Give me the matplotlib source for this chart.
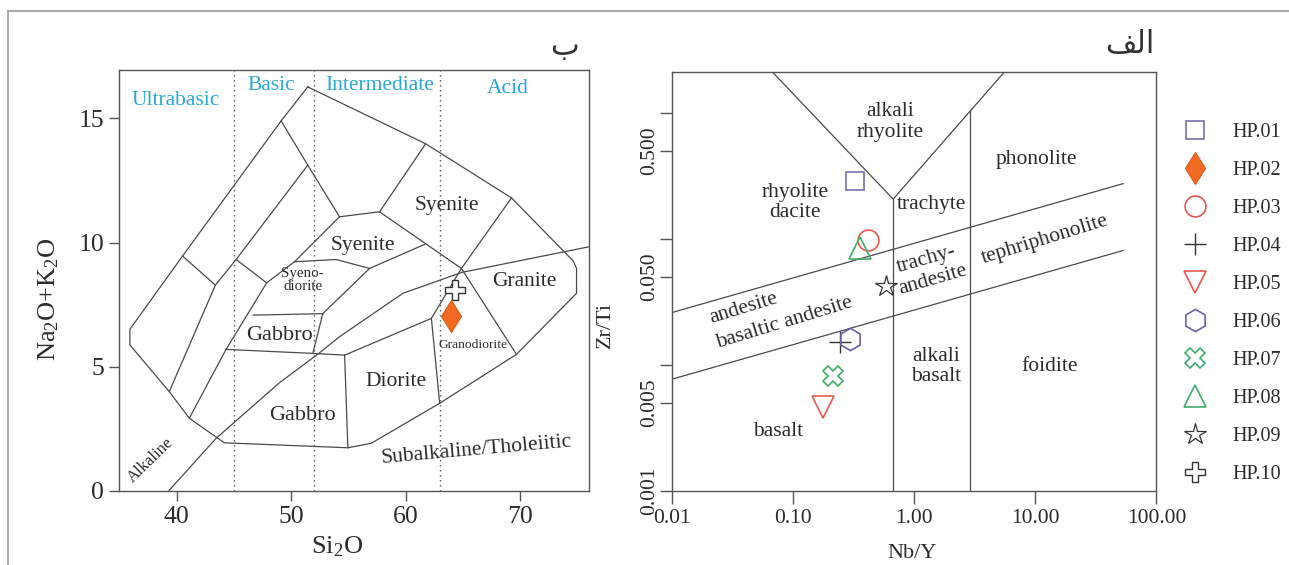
import numpy as np
import matplotlib
matplotlib.use("Agg")
import matplotlib.pyplot as plt
from matplotlib.lines import Line2D

plt.rcParams["font.family"] = ["Liberation Serif", "DejaVu Sans"]
plt.rcParams["mathtext.fontset"] = "custom"
plt.rcParams["mathtext.rm"] = "Liberation Serif"
plt.rcParams["mathtext.it"] = "Liberation Serif:italic"

# ---------------- sample data ----------------
sample_ids = ["HP.01", "HP.02", "HP.03", "HP.04", "HP.05",
              "HP.06", "HP.07", "HP.08", "HP.09", "HP.10"]

# Nb/Y vs Zr/Ti (right panel)
zr_ids = ["HP.01", "HP.03", "HP.04", "HP.05", "HP.06", "HP.07", "HP.08", "HP.09"]
nb_y = [0.325, 0.419, 0.245, 0.178, 0.296, 0.215, 0.354, 0.583]
zr_ti = [0.285, 0.098, 0.0153, 0.00466, 0.016, 0.0082, 0.084, 0.0424]

# SiO2 vs Na2O+K2O (left panel)
tas_ids = ["HP.02", "HP.10"]
sio2 = [64.0, 64.36]
alkali = [7.04, 8.09]

# ---------------- TAS (plutonic) field boundaries ----------------
outer_boundary = [(51.46, 16.27), (49.13, 14.90), (40.52, 9.46), (35.92, 6.51),
                  (35.92, 5.88), (39.36, 4.00), (41.11, 2.93), (44.17, 1.94),
                  (54.96, 1.74), (57.0, 1.92), (62.98, 3.53), (69.69, 5.50),
                  (74.94, 7.96), (74.94, 8.96), (74.65, 9.26), (69.26, 11.80),
                  (61.76, 13.98), (51.46, 16.27)]
ultrabasic_split = [(40.52, 9.46), (43.39, 8.29), (39.36, 4.00)]
basic_split = [(49.13, 14.90), (51.46, 13.12), (54.23, 11.04)]
alk_gabbro_split = [(51.46, 13.12), (45.2, 9.32), (43.39, 8.29)]
syenodiorite_left = [(45.2, 9.32), (47.87, 8.38), (44.32, 5.70), (41.11, 2.93)]
syenite_lower_left = [(54.23, 11.04), (50.30, 9.23), (47.87, 8.38)]
syenite_lower_top = [(54.23, 11.04), (57.73, 11.24), (61.76, 13.98)]
syenite_upper_base = [(57.73, 11.24), (64.88, 8.96), (69.69, 5.50)]
granite_left = [(69.26, 11.80), (64.88, 8.96)]
syenodiorite_top = [(50.30, 9.23), (53.95, 9.32), (56.86, 8.96), (61.67, 9.93)]
syenodiorite_right = [(56.86, 8.96), (52.77, 7.14), (51.90, 5.54)]
gabbro_top = [(46.7, 7.08), (52.77, 7.14)]
gabbro_base = [(44.32, 5.70), (51.90, 5.54), (54.68, 5.47)]
diorite_left = [(54.68, 5.47), (54.96, 1.74)]
diorite_top = [(54.68, 5.47), (62.26, 6.95), (64.88, 8.96)]
granodiorite_left = [(62.26, 6.95), (62.98, 3.53)]
alkaline_divide = [(39.3, 0.0), (43.45, 2.12), (48.99, 4.36), (52.34, 5.51),
                   (54.23, 6.21), (59.77, 7.96), (64.9, 8.8), (76.0, 9.83)]
tas_lines = [outer_boundary, ultrabasic_split, basic_split, alk_gabbro_split,
             syenodiorite_left, syenite_lower_left, syenite_lower_top,
             syenite_upper_base, granite_left, syenodiorite_top,
             syenodiorite_right, gabbro_top, gabbro_base, diorite_left,
             diorite_top, granodiorite_left, alkaline_divide]
silica_divisions = [45, 52, 63]
series_names = ["Ultrabasic", "Basic", "Intermediate", "Acid"]

# ---------------- Nb/Y - Zr/Ti field boundaries ----------------
zr_top = 2.1
alkali_rhyolite_v = [(0.0675, zr_top), (0.67, 0.206), (5.55, zr_top)]
subalkaline_edge = [(0.67, 0.206), (0.67, 0.001)]
foidite_edge_x = 2.9
upper_trend = [(0.01, 0.026), (53.0, 0.2735)]
lower_trend = [(0.01, 0.0077), (53.0, 0.0807)]

# ---------------- styles ----------------
line_col = "#4a4a4a"
text_col = "#2b2b2b"
cyan = "#27a8d8"
marker_styles = {
    "HP.01": dict(marker="s", ms=13, mfc="none", mec="#7a6db0", mew=1.2),
    "HP.02": dict(marker="d", ms=16.5, mfc="#f26a21", mec="#dd5a1c", mew=0.8),
    "HP.03": dict(marker="o", ms=15, mfc="none", mec="#e8574f", mew=1.2),
    "HP.04": dict(marker="+", ms=16, mfc="none", mec="#333333", mew=1.0),
    "HP.05": dict(marker="v", ms=16, mfc="none", mec="#e8574f", mew=1.2),
    "HP.06": dict(marker="h", ms=16, mfc="none", mec="#6a62a8", mew=1.2),
    "HP.07": dict(marker="X", ms=15, mfc="none", mec="#3fae6a", mew=1.2),
    "HP.08": dict(marker="^", ms=16, mfc="none", mec="#3fae6a", mew=1.2),
    "HP.09": dict(marker="*", ms=16, mfc="none", mec="#333333", mew=0.9),
    "HP.10": dict(marker="P", ms=15, mfc="white", mec="#333333", mew=1.0),
}

fig = plt.figure(figsize=(12.89, 5.65), dpi=100)
fig.patch.set_facecolor("white")

# thin page frame on the top and left
fig.add_artist(Line2D([8 / 1289, 1.0], [1 - 11 / 565] * 2, transform=fig.transFigure,
                      color="#a0a0a0", lw=1.3))
fig.add_artist(Line2D([8 / 1289] * 2, [0.0, 1 - 11 / 565], transform=fig.transFigure,
                      color="#a0a0a0", lw=1.3))

ax1 = fig.add_axes([0.0926, 0.131, 0.3641, 0.7451])
ax2 = fig.add_axes([0.5213, 0.131, 0.3759, 0.7416])

for ax in (ax1, ax2):
    for sp in ax.spines.values():
        sp.set_color("#555555")
        sp.set_linewidth(1.0)

# ---------- left panel: TAS ----------
for seg in tas_lines:
    xs, ys = zip(*seg)
    ax1.plot(xs, ys, color=line_col, lw=0.9, solid_joinstyle="miter")
for sx in silica_divisions:
    ax1.axvline(sx, color="#555555", lw=1.0, ls=(0, (1, 2.6)))

ax1.set_xlim(35, 76)
ax1.set_ylim(0, 16.95)
ax1.set_xticks([40, 50, 60, 70])
ax1.set_yticks([0, 5, 10, 15])
ax1.tick_params(direction="out", length=7, width=1.0, color="#555555",
                labelsize=18.5, labelcolor=text_col, pad=4)
ax1.set_xlabel(r"Si$_\mathrm{2}$O", fontsize=19, color=text_col, va="center")
ax1.xaxis.set_label_coords(0.464, -0.133)
ax1.set_ylabel(r"Na$_\mathrm{2}$O+K$_\mathrm{2}$O", fontsize=19, color=text_col,
               va="center")
ax1.yaxis.set_label_coords(-0.150, 0.456)

series_pos = [(39.95, 15.73), (48.3, 16.34), (57.7, 16.34), (68.9, 16.2)]
for name, (px, py) in zip(series_names, series_pos):
    ax1.text(px, py, name, color=cyan, fontsize=15.5, ha="center", va="center")

tas_labels = [
    ("Syenite", 63.57, 11.51, 15.5, 0),
    ("Syenite", 56.3, 9.9, 15.5, 0),
    ("Syeno-\ndiorite", 51.02, 8.49, 10.8, 0),
    ("Gabbro", 48.99, 6.28, 16, 0),
    ("Gabbro", 51.02, 3.02, 16, 0),
    ("Diorite", 59.13, 4.4, 15.5, 0),
    ("Granodiorite", 65.9, 5.88, 9.7, 0),
    ("Granite", 70.42, 8.42, 15.5, 0),
    ("Subalkaline/Tholeiitic", 66.19, 1.65, 15.5, 5),
    ("Alkaline", 37.76, 1.25, 12, 44),
]
for txt, x, y, fs, rot in tas_labels:
    ax1.text(x, y, txt, fontsize=fs, color=text_col, ha="center", va="center",
             rotation=rot, rotation_mode="anchor", linespacing=1.05)

handles = {}
for sid, x, y in zip(tas_ids, sio2, alkali):
    h, = ax1.plot([x], [y], ls="none", label=sid, zorder=5, **marker_styles[sid])
    handles[sid] = h

# ---------- right panel: Nb/Y vs Zr/Ti ----------
ax2.set_xscale("log")
ax2.set_yscale("log")
ax2.set_xlim(0.01, 100)
ax2.set_ylim(0.001, zr_top)

for seg in (alkali_rhyolite_v, subalkaline_edge, upper_trend, lower_trend):
    xs, ys = zip(*seg)
    ax2.plot(xs, ys, color=line_col, lw=0.9)
# foidite / alkali basalt divide starts on the right arm of the V
(ax_, ay_), (bx_, by_) = alkali_rhyolite_v[1], alkali_rhyolite_v[2]
t = (np.log10(foidite_edge_x) - np.log10(ax_)) / (np.log10(bx_) - np.log10(ax_))
y_start = 10 ** (np.log10(ay_) + t * (np.log10(by_) - np.log10(ay_)))
ax2.plot([foidite_edge_x, foidite_edge_x], [y_start, 0.001], color=line_col, lw=0.9)

ax2.set_xticks([0.01, 0.1, 1, 10, 100])
ax2.set_xticklabels(["0.01", "0.10", "1.00", "10.00", "100.00"])
ax2.set_yticks([0.001, 0.005, 0.01, 0.05, 0.1, 0.5, 1])
ax2.set_yticklabels(["0.001", "0.005", "", "0.050", "", "0.500", ""])
ax2.minorticks_off()
ax2.tick_params(direction="out", length=9, width=1.0, color="#555555",
                labelsize=15.5, labelcolor=text_col, pad=4)
ax2.tick_params(axis="y", labelrotation=90, pad=0)
for lab in ax2.get_yticklabels():
    lab.set_va("center")
ax2.set_xlabel("Nb/Y", fontsize=16, color=text_col, va="center")
ax2.xaxis.set_label_coords(0.495, -0.150)
ax2.set_ylabel("Zr/Ti", fontsize=16, color=text_col, va="center")
ax2.yaxis.set_label_coords(-0.138, 0.396)

zr_labels = [
    ("alkali\nrhyolite", 0.634, 0.841, 0),
    ("phonolite", 10.2, 0.424, 0),
    ("rhyolite\ndacite", 0.104, 0.193, 0),
    ("trachyte", 1.39, 0.186, 0),
    ("trachy-\nandesite", 1.34, 0.0568, 16),
    ("tephriphonolite", 12.0, 0.098, 17),
    ("andesite", 0.039, 0.0282, 17),
    ("basaltic andesite", 0.0843, 0.0214, 17),
    ("alkali\nbasalt", 1.51, 0.0097, 0),
    ("foidite", 13.0, 0.0097, 0),
    ("basalt", 0.0749, 0.00296, 0),
]
for txt, x, y, rot in zr_labels:
    ax2.text(x, y, txt, fontsize=15.5, color=text_col, ha="center", va="center",
             rotation=rot, rotation_mode="anchor", linespacing=1.1)

for sid, x, y in zip(zr_ids, nb_y, zr_ti):
    h, = ax2.plot([x], [y], ls="none", label=sid, zorder=5, **marker_styles[sid])
    handles[sid] = h

leg = ax2.legend(handles=[handles[s] for s in sample_ids], loc="upper left",
                 bbox_to_anchor=(1180 / 1289, 1 - 123 / 565),
                 bbox_transform=fig.transFigure, frameon=False,
                 fontsize=14.5, labelspacing=0.94, handlelength=1.5,
                 handletextpad=1.1, borderpad=0, borderaxespad=0)
for t_ in leg.get_texts():
    t_.set_color(text_col)

# panel letters
fig.text(565 / 1289, 1 - 47 / 565, "\u0628", fontsize=22, color="#333333",
         ha="center", va="center", family=["DejaVu Sans"])
fig.text(1130 / 1289, 1 - 44 / 565, "\uFED2\uFEDF\uFE8D", fontsize=22, color="#333333",
         ha="center", va="center", family=["DejaVu Sans"])

fig.savefig("out.png", dpi=100, facecolor="white")
